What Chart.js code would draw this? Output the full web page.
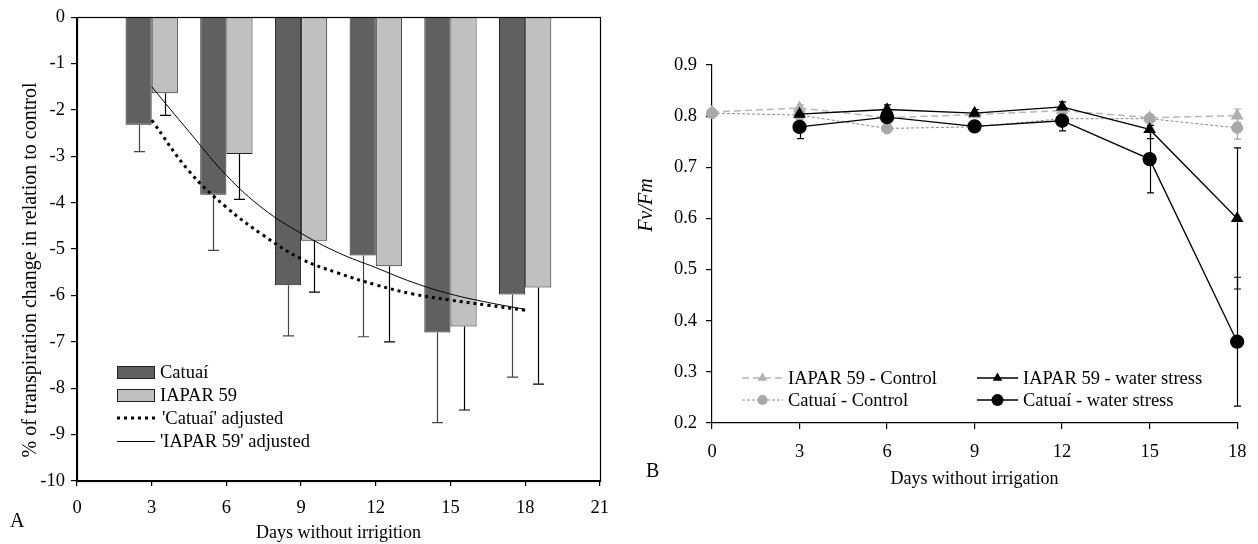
<!DOCTYPE html>
<html>
<head>
<meta charset="utf-8">
<script src="https://cdn.jsdelivr.net/npm/chart.js@4.4.0/dist/chart.umd.min.js"></script>
<style>
  html, body { margin: 0; padding: 0; background: #fff; }
  #wrap { position: relative; width: 1258px; height: 544px; overflow: hidden; font-family: "Liberation Serif", "Times New Roman", serif; color: #000; }
  #chartA { position: absolute; left: 0; top: 0; }
  #chartB { position: absolute; left: 620px; top: 0; }
  .panel { position: absolute; font-size: 20px; line-height: 20px; }
  .vtitle { position: absolute; font-size: 20px; line-height: 20px; white-space: nowrap;
            transform: translate(-50%, -50%) rotate(-90deg); }
  #titleA { left: 29px; top: 270px; }
  #fvfm { left: 645px; top: 205px; font-style: italic; }
</style>
</head>
<body>
<div id="wrap">
  <canvas id="chartA" width="620" height="544"></canvas>
  <canvas id="chartB" width="638" height="544"></canvas>
  <div class="panel" style="left:10px;top:510px">A</div>
  <div class="panel" style="left:646px;top:460px">B</div>
  <div class="vtitle" id="titleA">% of transpiration change in relation to control</div>
  <div class="vtitle" id="fvfm">Fv/Fm</div>
</div>
<script>
// Panel A: transpiration change (%) vs days without irrigation
const days = [3, 6, 9, 12, 15, 18];
const catuaiChange = [-2.32, -3.83, -5.78, -5.14, -6.80, -5.98];
const catuaiChangeErr = [0.58, 1.20, 1.09, 1.75, 1.94, 1.78];
const iaparChange = [-1.64, -2.95, -4.82, -5.37, -6.67, -5.83];
const iaparChangeErr = [0.48, 0.98, 1.11, 1.63, 1.80, 2.08];

// adjusted curves, read at regular steps
const fitDays = [3, 4.5, 6, 7.5, 9, 10.5, 12, 13.5, 15, 16.5, 18];
const catuaiFit = [-2.22, -3.32, -4.10, -4.71, -5.21, -5.52, -5.77, -5.97, -6.10, -6.21, -6.32];
const iaparFit = [-1.50, -2.47, -3.41, -4.14, -4.66, -5.08, -5.40, -5.72, -5.97, -6.15, -6.30];

const xTicksA = { min: 0, max: 21, step: 3 };
const yTicksA = { min: -10, max: 0, step: 1 };

// Panel B: Fv/Fm
const fvDays = [0, 3, 6, 9, 12, 15, 18];
const iaparControl = [0.808, 0.816, 0.797, 0.803, 0.811, 0.797, 0.801];
const iaparControlErr = [0.004, 0.006, 0.005, 0.005, 0.005, 0.006, 0.013];
const catuaiControl = [0.806, 0.802, 0.776, 0.779, 0.795, 0.795, 0.777];
const catuaiControlErr = [0.004, 0.005, 0.005, 0.009, 0.005, 0.006, 0.022];
const stressDays = [3, 6, 9, 12, 15, 18];
const iaparStress = [0.804, 0.813, 0.806, 0.818, 0.774, 0.600];
const iaparStressErr = [0.005, 0.009, 0.007, 0.010, 0.018, 0.138];
const catuaiStress = [0.779, 0.798, 0.780, 0.791, 0.716, 0.359];
const catuaiStressErr = [0.023, 0.006, 0.008, 0.020, 0.066, 0.126];

const xTicksB = { min: 0, max: 18, step: 3 };
const yTicksB = { min: 0.2, max: 0.9, step: 0.1 };

const FONT = '"Liberation Serif", "Times New Roman", serif';
Chart.defaults.font.family = FONT;
Chart.defaults.font.size = 18.5;
Chart.defaults.color = '#000';
Chart.defaults.animation = false;

const titleFont = { size: 18 };
const pts = (xs, ys) => xs.map((x, i) => ({ x, y: ys[i] }));

// vertical error bars; ds.errors holds the half-range per point
const errorBars = {
  id: 'errorBars',
  beforeDatasetsDraw(chart) {
    const ctx = chart.ctx;
    chart.data.datasets.forEach((ds, i) => {
      if (!ds.errors) return;
      const meta = chart.getDatasetMeta(i);
      const ys = chart.scales[meta.yAxisID];
      const cap = ds.errorCap || 4;
      ctx.save();
      ctx.strokeStyle = ds.errorColor || '#000';
      ctx.lineWidth = 1.2;
      meta.data.forEach((el, j) => {
        const v = ds.data[j].y, e = ds.errors[j];
        const x = Math.round(el.x) + 0.5;
        const top = ys.getPixelForValue(ds.errorDown ? v : v + e);
        const bot = ys.getPixelForValue(v - e);
        ctx.beginPath();
        ctx.moveTo(x, top); ctx.lineTo(x, bot);
        ctx.moveTo(x - cap, bot); ctx.lineTo(x + cap, bot);
        if (!ds.errorDown) { ctx.moveTo(x - cap, top); ctx.lineTo(x + cap, top); }
        ctx.stroke();
      });
      ctx.restore();
    });
  }
};

// box round the plot area of panel A
const frame = {
  id: 'frame',
  afterDatasetsDraw(chart) {
    const { ctx, chartArea: a } = chart;
    ctx.save();
    ctx.strokeStyle = '#000';
    ctx.lineWidth = 1.2;
    ctx.strokeRect(Math.round(a.left) + 0.5, Math.round(a.top) + 0.5,
                   Math.round(a.right - a.left), Math.round(a.bottom - a.top));
    ctx.restore();
  }
};

function marker(ctx, style, r, x, y) {
  ctx.beginPath();
  if (style === 'triangle') {
    ctx.moveTo(x, y - r);
    ctx.lineTo(x + 0.866 * r, y + 0.5 * r);
    ctx.lineTo(x - 0.866 * r, y + 0.5 * r);
    ctx.closePath();
  } else {
    ctx.arc(x, y, r, 0, Math.PI * 2);
  }
  ctx.fill();
}

// legend drawn inside the plot; ds.legendAt = [x, y] of the swatch start
const innerLegend = {
  id: 'innerLegend',
  afterDraw(chart) {
    const ctx = chart.ctx;
    ctx.save();
    ctx.font = '18.5px ' + FONT;
    ctx.textBaseline = 'middle';
    chart.data.datasets.forEach(ds => {
      if (!ds.legendAt) return;
      const [x, y] = ds.legendAt;
      const w = ds.legendW || 41;
      if (ds.type === 'bar') {
        ctx.fillStyle = ds.backgroundColor;
        ctx.fillRect(x, y - 6.5, w, 13);
        ctx.strokeStyle = ds.borderColor;
        ctx.lineWidth = 1;
        ctx.strokeRect(x + 0.5, y - 6, w - 1, 12);
      } else {
        ctx.strokeStyle = ds.borderColor;
        ctx.lineWidth = ds.borderWidth;
        ctx.setLineDash(ds.borderDash || []);
        ctx.beginPath();
        ctx.moveTo(x, y); ctx.lineTo(x + w, y);
        ctx.stroke();
        ctx.setLineDash([]);
        if (ds.pointRadius) {
          ctx.fillStyle = ds.pointBackgroundColor;
          marker(ctx, ds.pointStyle, ds.pointRadius - 0.5, x + w / 2, y);
        }
      }
      ctx.fillStyle = '#000';
      ctx.fillText(ds.label, x + w + 5, y + 1);
    });
    ctx.restore();
  }
};

const tickGrid = len => ({ drawOnChartArea: false, color: '#000', tickLength: len, lineWidth: 1.2 });
const axisBorder = { display: true, color: '#000', width: 1.2 };

new Chart(document.getElementById('chartA'), {
  type: 'bar',
  data: {
    datasets: [
      {
        type: 'bar', label: 'Catuaí', data: pts(days, catuaiChange), order: 2,
        backgroundColor: '#606060', borderColor: '#222', borderWidth: 1,
        categoryPercentage: 0.7, barPercentage: 1,
        errors: catuaiChangeErr, errorDown: true, errorColor: '#444', errorCap: 5.5,
        legendAt: [117, 372.5], legendW: 38
      },
      {
        type: 'bar', label: 'IAPAR 59', data: pts(days, iaparChange), order: 2,
        backgroundColor: '#c0c0c0', borderColor: '#222', borderWidth: 1,
        categoryPercentage: 0.7, barPercentage: 1,
        errors: iaparChangeErr, errorDown: true, errorColor: '#000', errorCap: 5.5,
        legendAt: [117, 395.5], legendW: 38
      },
      {
        type: 'line', label: "'Catuaí' adjusted", data: pts(fitDays, catuaiFit), order: 1,
        borderColor: '#000', borderWidth: 3, borderDash: [3, 4], borderCapStyle: 'butt',
        pointRadius: 0, tension: 0.4, fill: false,
        legendAt: [117, 418], legendW: 40
      },
      {
        type: 'line', label: "'IAPAR 59' adjusted", data: pts(fitDays, iaparFit), order: 1,
        borderColor: '#000', borderWidth: 1, pointRadius: 0, tension: 0.4, fill: false,
        legendAt: [117, 441.5], legendW: 38
      }
    ]
  },
  options: {
    responsive: false,
    layout: { padding: { left: 0, top: 15, right: 18, bottom: 0 } },
    plugins: { legend: { display: false }, tooltip: { enabled: false } },
    scales: {
      x: {
        type: 'linear', min: xTicksA.min, max: xTicksA.max, offset: false,
        ticks: { stepSize: xTicksA.step, padding: 10.9 },
        grid: Object.assign({ offset: false }, tickGrid(5)),
        border: axisBorder,
        title: { display: true, text: 'Days without irrigition', padding: 0, font: titleFont },
        afterFit: s => { s.height = 63; }
      },
      y: {
        min: yTicksA.min, max: yTicksA.max,
        ticks: { stepSize: yTicksA.step, padding: 6, callback: v => String(v) },
        grid: tickGrid(6),
        border: axisBorder,
        afterFit: s => { s.width = 77; }
      }
    }
  },
  plugins: [errorBars, frame, innerLegend]
});

new Chart(document.getElementById('chartB'), {
  type: 'line',
  data: {
    datasets: [
      {
        label: 'IAPAR 59 - Control', data: pts(fvDays, iaparControl), order: 3,
        borderColor: '#b8b8b8', borderWidth: 1.5, borderDash: [7, 4],
        pointStyle: 'triangle', pointRadius: 6, pointBackgroundColor: '#b0b0b0', pointBorderColor: '#b0b0b0',
        errors: iaparControlErr, errorColor: '#aaa', errorCap: 3.5,
        legendAt: [122, 378]
      },
      {
        label: 'Catuaí - Control', data: pts(fvDays, catuaiControl), order: 2,
        borderColor: '#8c8c8c', borderWidth: 1, borderDash: [3, 2],
        pointStyle: 'circle', pointRadius: 5.5, pointBackgroundColor: '#a8a8a8', pointBorderColor: '#a8a8a8',
        errors: catuaiControlErr, errorColor: '#a0a0a0', errorCap: 3.5,
        legendAt: [122, 400]
      },
      {
        label: 'IAPAR 59 - water stress', data: pts(stressDays, iaparStress), order: 1,
        borderColor: '#000', borderWidth: 1.3,
        pointStyle: 'triangle', pointRadius: 6, pointBackgroundColor: '#000', pointBorderColor: '#000',
        errors: iaparStressErr, errorColor: '#000', errorCap: 3.5,
        legendAt: [357, 378]
      },
      {
        label: 'Catuaí - water stress', data: pts(stressDays, catuaiStress), order: 0,
        borderColor: '#000', borderWidth: 1.3,
        pointStyle: 'circle', pointRadius: 6.5, pointBackgroundColor: '#000', pointBorderColor: '#000',
        errors: catuaiStressErr, errorColor: '#000', errorCap: 3.5,
        legendAt: [357, 400]
      }
    ]
  },
  options: {
    responsive: false,
    clip: false,
    layout: { padding: { left: 0, top: 65, right: 20.3, bottom: 54.2 } },
    plugins: { legend: { display: false }, tooltip: { enabled: false } },
    datasets: { line: { clip: false } },
    scales: {
      x: {
        type: 'linear', min: xTicksB.min, max: xTicksB.max,
        ticks: { stepSize: xTicksB.step, padding: 11.6 },
        grid: tickGrid(6),
        border: axisBorder,
        title: { display: true, text: 'Days without irrigation', padding: 0, font: titleFont },
        afterFit: s => { s.height = 66.8; }
      },
      y: {
        min: yTicksB.min, max: yTicksB.max,
        ticks: { stepSize: yTicksB.step, padding: 9, callback: v => v.toFixed(1) },
        grid: tickGrid(6),
        border: axisBorder,
        afterFit: s => { s.width = 92; }
      }
    }
  },
  plugins: [errorBars, innerLegend]
});
</script>
</body>
</html>
